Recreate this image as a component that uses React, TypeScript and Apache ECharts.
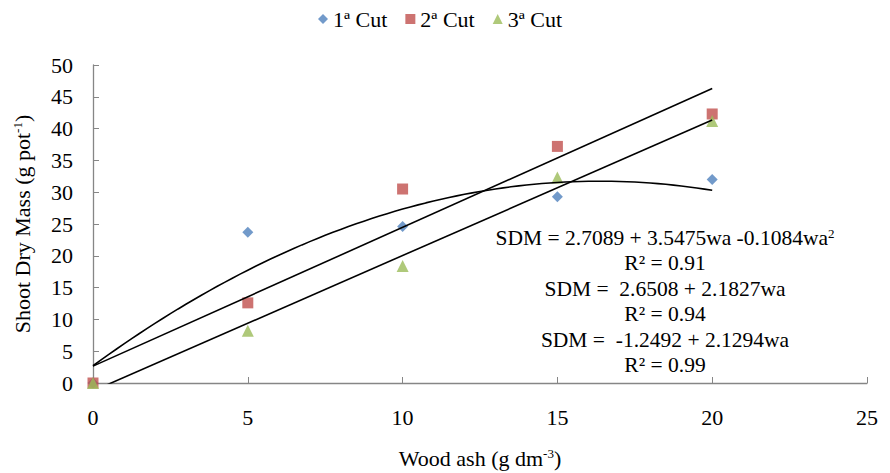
import React, { useEffect, useRef } from "react";
import * as echarts from "echarts";

const xValues = [0, 5, 10, 15, 20];
const cut1 = [0, 23.7, 24.6, 29.3, 32.0];
const cut2 = [0, 12.6, 30.5, 37.2, 42.3];
const cut3 = [0, 8.2, 18.4, 32.3, 41.2];
const seriesNames = ["1ª Cut", "2ª Cut", "3ª Cut"];

// trendline coefficients shown in the chart: [c0, c1, c2]
const quadCoef = [2.7089, 3.5475, -0.1084];
const lin2Coef = [2.6508, 2.1827];
const lin3Coef = [-1.2492, 2.1294];

const equationLines = [
  "SDM = 2.7089 + 3.5475wa -0.1084wa{sup|2}",
  "R² = 0.91",
  "SDM =  2.6508 + 2.1827wa",
  "R² = 0.94",
  "SDM =  -1.2492 + 2.1294wa",
  "R² = 0.99",
];

const FONT = "Liberation Serif";

function polyLine(coef: number[], x0: number, x1: number, step: number) {
  const pts: number[][] = [];
  for (let x = x0; x <= x1 + 1e-9; x += step) {
    let y = 0;
    coef.forEach((c, i) => (y += c * Math.pow(x, i)));
    pts.push([x, y]);
  }
  return pts;
}

export default function App() {
  const ref = useRef<HTMLDivElement>(null);
  useEffect(() => {
    const chart = echarts.init(ref.current!, null, { renderer: "svg" });
    const pairs = (ys: number[]) => xValues.map((x, i) => [x, ys[i]]);
    const trendStyle = { color: "#000", width: 1.6 };
    const eqY = [230, 255, 281, 306, 332, 357];
    const supStyle = { fontSize: 13, verticalAlign: "top", padding: [0, 0, 9, 0], fontFamily: FONT, color: "#000" };
    chart.setOption({
      animation: false,
      backgroundColor: "#fff",
      textStyle: { fontFamily: FONT },
      legend: {
        top: -5,
        left: 305,
        data: [
          { name: seriesNames[0], icon: "diamond" },
          { name: seriesNames[1], icon: "rect" },
          { name: seriesNames[2], icon: "triangle" },
        ],
        itemWidth: 10,
        itemHeight: 10,
        itemGap: 18,
        textStyle: { fontFamily: FONT, fontSize: 22, color: "#000" },
      },
      grid: { left: 85, right: 23, top: 57, bottom: 90, containLabel: false, outerBoundsMode: "none" },
      xAxis: {
        type: "value",
        min: 0,
        max: 25,
        interval: 5,
        name: "Wood ash (g dm{sup|-3})",
        nameLocation: "middle",
        nameGap: 64,
        nameTextStyle: { fontFamily: FONT, fontSize: 22, color: "#000", rich: { sup: supStyle } },
        axisLine: { lineStyle: { color: "#868686", width: 1.3 } },
        axisTick: { inside: true, length: 6, lineStyle: { color: "#868686" } },
        axisLabel: { margin: 23, fontFamily: FONT, fontSize: 22, color: "#000" },
        splitLine: { show: false },
      },
      yAxis: {
        type: "value",
        min: 0,
        max: 50,
        interval: 5,
        name: "Shoot Dry Mass (g pot{sup|-1})",
        nameLocation: "middle",
        nameGap: 60,
        nameTextStyle: { fontFamily: FONT, fontSize: 22, color: "#000", rich: { sup: supStyle } },
        axisLine: { show: true, lineStyle: { color: "#868686", width: 1.3 } },
        axisTick: { show: true, inside: true, length: 6, lineStyle: { color: "#868686" } },
        axisLabel: { margin: 20, fontFamily: FONT, fontSize: 22, color: "#000" },
        splitLine: { show: false },
      },
      series: [
        {
          name: seriesNames[0],
          type: "scatter",
          symbol: "diamond",
          symbolSize: 11,
          itemStyle: { color: "#4F81BD" },
          data: pairs(cut1),
          z: 3,
        },
        {
          name: seriesNames[1],
          type: "scatter",
          symbol: "rect",
          symbolSize: 11,
          itemStyle: { color: "#C0504D" },
          data: pairs(cut2),
          z: 4,
        },
        {
          name: seriesNames[2],
          type: "scatter",
          symbol: "triangle",
          symbolSize: 12,
          itemStyle: { color: "#9BBB59" },
          data: pairs(cut3),
          z: 5,
        },
        {
          name: "trend1",
          type: "line",
          symbol: "none",
          lineStyle: trendStyle,
          data: polyLine(quadCoef, 0, 20, 0.25),
          z: 6,
          silent: true,
        },
        {
          name: "trend2",
          type: "line",
          symbol: "none",
          lineStyle: trendStyle,
          data: polyLine(lin2Coef, 0, 20, 20),
          z: 6,
          silent: true,
        },
        {
          name: "trend3",
          type: "line",
          symbol: "none",
          lineStyle: trendStyle,
          clip: true,
          data: polyLine(lin3Coef, 0, 20, 20),
          z: 6,
          silent: true,
        },
      ],
      graphic: equationLines.map((t, i) => ({
        type: "text",
        x: 657,
        y: eqY[i],
        z: 10,
        style: {
          text: t,
          fontFamily: FONT,
          fontSize: 21.5,
          fill: "#000",
          align: "center",
          verticalAlign: "middle",
          rich: {
            sup: { fontSize: 13, verticalAlign: "top", padding: [0, 0, 9, 0], fontFamily: FONT, fill: "#000" },
          },
        },
      })),
    });
    return () => chart.dispose();
  }, []);
  return <div ref={ref} style={{ width: 882, height: 465 }} />;
}
